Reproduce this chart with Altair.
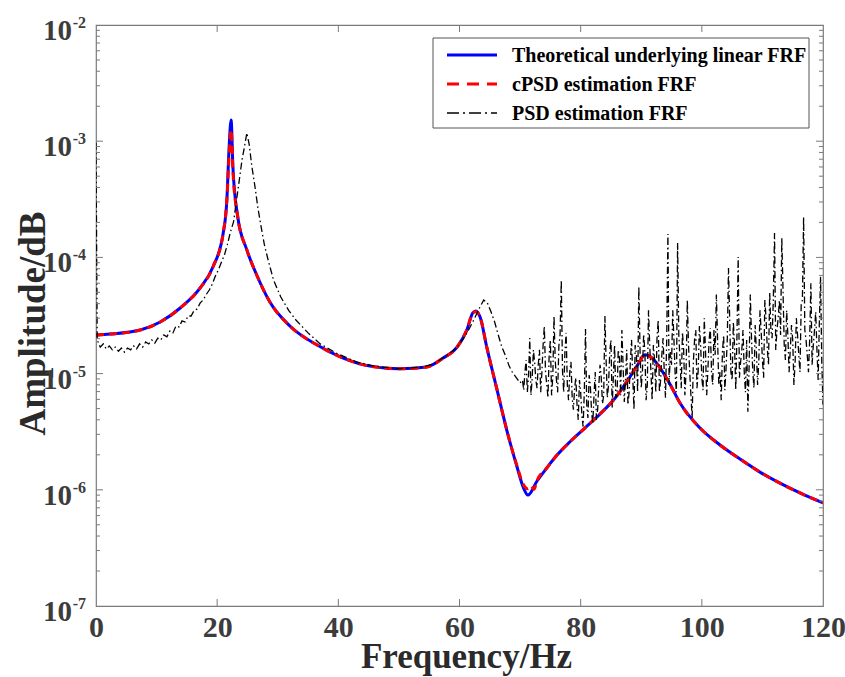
import altair as alt
import pandas as pd

# ---------------- data ----------------
series_names = ["Theoretical underlying linear FRF", "cPSD estimation FRF", "PSD estimation FRF"]

theo_freq = [0, 2.3, 7.3, 10.6, 13.9, 17.2, 19.3, 21.0, 21.6, 21.95, 22.3, 22.6, 23.4, 24.9,
             26.6, 28.7, 32.0, 36.5, 40.8, 45.2, 50.2, 54.6, 57.3, 59.6, 61.2, 62.2, 62.7,
             63.4, 64.5, 66.2, 67.8, 69.5, 70.5, 71.3, 72.8, 74.4, 76.1, 78.2, 80.7, 83.2,
             85.7, 87.8, 89.5, 90.6, 91.8, 93.1, 94.8, 96.4, 99.7, 103.0, 106.3, 109.6,
             112.9, 116.2, 120.0]
theo_amp = [2.15e-5, 2.19e-5, 2.37e-5, 2.78e-5, 3.67e-5, 5.46e-5, 8.26e-5, 1.62e-4, 3.12e-4,
            8.39e-4, 1.52e-3, 6.0e-4, 2.23e-4, 1.16e-4, 6.92e-5, 4.13e-5, 2.57e-5, 1.76e-5,
            1.36e-5, 1.16e-5, 1.10e-5, 1.14e-5, 1.36e-5, 1.69e-5, 2.37e-5, 3.33e-5, 3.46e-5,
            3.07e-5, 1.69e-5, 7.23e-6, 3.27e-6, 1.57e-6, 1.06e-6, 9.0e-7, 1.19e-6, 1.54e-6,
            1.99e-6, 2.58e-6, 3.40e-6, 4.49e-6, 6.17e-6, 8.81e-6, 1.21e-5, 1.45e-5, 1.36e-5,
            1.12e-5, 8.0e-6, 5.58e-6, 3.40e-6, 2.43e-6, 1.84e-6, 1.42e-6, 1.14e-6, 9.4e-7,
            7.7e-7]

cpsd_freq = [0, 2.3, 7.3, 10.6, 13.9, 17.2, 19.3, 21.0, 21.6, 22.0, 22.3, 22.45, 22.6, 23.4,
             24.9, 26.6, 28.7, 32.0, 36.5, 40.8, 45.2, 50.2, 54.6, 57.3, 59.6, 61.2, 62.2,
             62.7, 63.4, 64.5, 66.2, 67.8, 69.5, 70.5, 71.3, 71.8, 72.3, 72.8, 74.4, 76.1,
             78.2, 80.7, 83.2, 85.7, 87.8, 89.5, 90.6, 91.8, 93.1, 94.8, 96.4, 99.7, 103.0,
             106.3, 109.6, 112.9, 116.2, 120.0]
cpsd_amp = [2.15e-5, 2.19e-5, 2.37e-5, 2.78e-5, 3.67e-5, 5.46e-5, 8.26e-5, 1.62e-4, 3.12e-4,
            8.0e-4, 1.25e-3, 9.5e-4, 5.6e-4, 2.23e-4, 1.16e-4, 6.92e-5, 4.13e-5, 2.57e-5,
            1.76e-5, 1.36e-5, 1.16e-5, 1.10e-5, 1.14e-5, 1.36e-5, 1.69e-5, 2.37e-5, 3.33e-5,
            3.40e-5, 3.07e-5, 1.69e-5, 7.23e-6, 3.27e-6, 1.60e-6, 1.12e-6, 1.02e-6, 1.08e-6,
            1.01e-6, 1.20e-6, 1.54e-6, 1.99e-6, 2.58e-6, 3.40e-6, 4.49e-6, 6.17e-6, 8.81e-6,
            1.21e-5, 1.45e-5, 1.36e-5, 1.12e-5, 8.0e-6, 5.58e-6, 3.40e-6, 2.43e-6, 1.84e-6,
            1.42e-6, 1.14e-6, 9.4e-7, 7.7e-7]

psd_freq = [0.0, 0.2, 0.7, 1.2, 1.7, 2.2, 2.7, 3.2, 3.7, 4.2, 4.7, 5.2, 5.7, 6.2, 6.7, 7.2,
            7.7, 8.2, 8.7, 9.2, 9.7, 10.2, 10.7, 11.2, 11.7, 12.2, 12.7, 13.2, 13.7, 14.2,
            14.7, 15.2, 15.7, 16.2, 16.7, 17.2, 17.7, 18.2, 18.7, 19.2, 19.7, 20.2, 20.7,
            21.2, 21.7, 22.2, 22.7, 23.2, 23.7, 24.1, 24.5, 24.9, 25.3, 25.7, 26.2, 26.7,
            27.2, 27.8, 28.5, 29.3, 30.5, 31.8, 33.0, 35.0, 37.0, 40.0, 43.0, 46.0, 50.0,
            54.0, 56.0, 58.0, 59.5, 60.5, 61.5, 62.5, 63.3, 64.0, 64.6, 65.2, 65.8, 66.4,
            67.0, 67.6, 68.2, 68.8, 69.4, 70.0,
            70.4, 70.8, 71.2, 71.6, 72.0, 72.4, 72.8, 73.2, 73.6, 74.0, 74.4, 74.8, 75.2,
            75.6, 76.0, 76.4, 76.8, 77.2, 77.6, 78.0, 78.4, 78.8, 79.2, 79.6, 80.0, 80.4,
            80.8, 81.2, 81.6, 82.0, 82.4, 82.8, 83.2, 83.6, 84.0, 84.4, 84.8, 85.2, 85.6,
            86.0, 86.4, 86.8, 87.2, 87.6, 88.0, 88.4, 88.8, 89.2, 89.6, 90.0, 90.4, 90.8,
            91.2, 91.6, 92.0, 92.4, 92.8, 93.2, 93.6, 94.0, 94.4, 94.8, 95.2, 95.6, 96.0,
            96.4, 96.8, 97.2, 97.6, 98.0, 98.4, 98.8, 99.2, 99.6, 100.0, 100.4, 100.8,
            101.2, 101.6, 102.0, 102.4, 102.8, 103.2, 103.6, 104.0, 104.4, 104.8, 105.2,
            105.6, 106.0, 106.4, 106.8, 107.2, 107.6, 108.0, 108.4, 108.8, 109.2, 109.6,
            110.0, 110.4, 110.8, 111.2, 111.6, 112.0, 112.4, 112.8, 113.2, 113.6, 114.0,
            114.4, 114.8, 115.2, 115.6, 116.0, 116.4, 116.8, 117.2, 117.6, 118.0, 118.4,
            118.8, 119.2, 119.6, 120.0]
psd_amp = [9.7e-4, 1.95e-5, 1.69e-5, 1.80e-5, 1.63e-5, 1.73e-5, 1.60e-5, 1.69e-5, 1.56e-5,
           1.66e-5, 1.53e-5, 1.66e-5, 1.60e-5, 1.73e-5, 1.63e-5, 1.80e-5, 1.69e-5, 1.87e-5,
           1.80e-5, 1.95e-5, 1.83e-5, 2.02e-5, 1.95e-5, 2.15e-5, 2.07e-5, 2.33e-5, 2.24e-5,
           2.57e-5, 2.52e-5, 2.84e-5, 2.78e-5, 3.13e-5, 3.13e-5, 3.5e-5, 3.6e-5, 4.06e-5,
           4.3e-5, 4.8e-5, 5.24e-5, 5.9e-5, 6.9e-5, 7.8e-5, 9.1e-5, 1.05e-4, 1.30e-4,
           1.66e-4, 2.02e-4, 3.12e-4, 4.82e-4, 6.9e-4, 8.9e-4, 1.18e-3, 9.3e-4, 6.2e-4,
           4.2e-4, 2.72e-4, 1.90e-4, 1.28e-4, 9.1e-5, 6.4e-5, 4.56e-5, 3.5e-5, 2.89e-5,
           2.24e-5, 1.80e-5, 1.47e-5, 1.26e-5, 1.16e-5, 1.10e-5, 1.14e-5, 1.23e-5, 1.45e-5,
           1.66e-5, 1.95e-5, 2.37e-5, 3.0e-5, 3.67e-5, 4.3e-5, 4.06e-5, 3.4e-5, 2.78e-5,
           2.15e-5, 1.69e-5, 1.42e-5, 1.16e-5, 1.01e-5, 9.2e-6, 8.3e-6,
           8.8e-6, 1.03e-5, 6.9e-6, 2.02e-5, 9.2e-6, 1.26e-5, 7.5e-6, 1.60e-5, 1.03e-5,
           2.57e-5, 8.1e-6, 1.45e-5, 6.5e-6, 3.13e-5, 8.8e-6, 1.73e-5, 6.4e-5, 6.9e-6,
           2.24e-5, 5.9e-6, 1.26e-5, 4.9e-6, 9.2e-6, 4.0e-6, 6.9e-6, 3.5e-6, 2.42e-5,
           4.15e-6, 7.8e-6, 3.7e-6, 1.03e-5, 4.9e-6, 1.19e-5, 5.5e-6, 3.13e-5, 6.2e-6,
           1.53e-5, 5.1e-6, 1.76e-5, 6.5e-6, 1.36e-5, 2.37e-5, 5.7e-6, 1.60e-5, 6.9e-6,
           1.95e-5, 4.9e-6, 1.45e-5, 5.6e-5, 7.5e-6, 2.19e-5, 5.9e-6, 3.5e-5, 1.03e-5,
           1.76e-5, 6.9e-6, 2.89e-5, 8.8e-6, 2.02e-5, 6.2e-6, 1.59e-4, 1.53e-5, 3.5e-5,
           9.7e-6, 1.33e-4, 1.31e-5, 2.28e-5, 6.5e-6, 4.3e-5, 1.03e-5, 4.15e-6, 1.95e-5,
           7.5e-6, 2.57e-5, 9.2e-6, 3.0e-5, 6.5e-6, 1.95e-5, 1.03e-5, 2.37e-5, 4.8e-5,
           8.0e-6, 5.9e-6, 2.15e-5, 1.12e-5, 8.1e-5, 1.03e-5, 2.78e-5, 7.2e-6, 1.01e-4,
           1.26e-5, 2.37e-5, 6.9e-6, 4.7e-6, 4.8e-5, 1.07e-5, 2.62e-5, 8.0e-6, 3.5e-5,
           1.31e-5, 4.3e-5, 1.66e-5, 5.0e-5, 2.02e-5, 1.62e-4, 2.37e-5, 4.3e-5, 1.47e-4,
           1.76e-5, 3.5e-5, 1.03e-5, 2.62e-5, 8.0e-6, 3.0e-5, 1.45e-5, 3.9e-5, 2.23e-4,
           1.95e-5, 1.03e-5, 6.0e-5, 1.76e-5, 3.4e-5, 8.8e-6, 6.8e-5, 5.4e-6]

# extra PSD samples in the dense noisy band (between the samples above)
psd_mid_freq = [70.6, 71.0, 71.4, 71.8, 72.2, 72.6, 73.0, 73.4, 73.8, 74.2, 74.6, 75.0, 75.4,
                75.8, 76.2, 76.6, 77.0, 77.4, 77.8, 78.2, 78.6, 79.0, 79.4, 79.8, 80.2, 80.6,
                81.0, 81.4, 81.8, 82.2, 82.6, 83.0, 83.4, 83.8, 84.2, 84.6, 85.0, 85.4, 85.8,
                86.2, 86.6, 87.0, 87.4, 87.8, 88.2, 88.6, 89.0, 89.4, 89.8, 90.2, 90.6, 91.0,
                91.4, 91.8, 92.2, 92.6, 93.0, 93.4, 93.8, 94.2, 94.6, 95.0, 95.4, 95.8, 96.2,
                96.6, 97.0, 97.4, 97.8, 98.2, 98.6, 99.0, 99.4, 99.8, 100.2, 100.6, 101.0,
                101.4, 101.8, 102.2, 102.6, 103.0, 103.4, 103.8, 104.2, 104.6, 105.0, 105.4,
                105.8, 106.2, 106.6, 107.0, 107.4, 107.8, 108.2, 108.6, 109.0, 109.4, 109.8,
                110.2, 110.6, 111.0, 111.4, 111.8, 112.2, 112.6, 113.0, 113.4, 113.8, 114.2,
                114.6, 115.0, 115.4, 115.8, 116.2, 116.6, 117.0, 117.4, 117.8, 118.2, 118.6,
                119.0, 119.4, 119.8]
psd_mid_amp = [7.2e-6, 1.31e-5, 9.7e-6, 6.5e-6, 1.60e-5, 8.8e-6, 1.19e-5, 6.9e-6, 1.76e-5,
               1.03e-5, 6.2e-6, 1.95e-5, 9.5e-6, 1.31e-5, 6.9e-6, 2.15e-5, 1.07e-5, 1.53e-5,
               8.0e-6, 1.03e-5, 6.2e-6, 7.5e-6, 5.4e-6, 8.8e-6, 4.41e-6, 6.9e-6, 5.4e-6,
               9.7e-6, 4.7e-6, 6.5e-6, 4.0e-6, 8.0e-6, 9.2e-6, 6.5e-6, 1.31e-5, 8.0e-6,
               1.95e-5, 9.7e-6, 6.2e-6, 1.60e-5, 6.5e-6, 1.19e-5, 8.8e-6, 5.4e-6, 1.26e-5,
               9.2e-6, 1.76e-5, 6.9e-6, 1.60e-5, 1.07e-5, 1.53e-5, 8.0e-6, 1.76e-5, 5.9e-6,
               1.31e-5, 2.02e-5, 6.9e-6, 1.45e-5, 1.03e-5, 1.95e-5, 8.0e-6, 1.19e-5, 1.95e-5,
               6.9e-6, 2.15e-5, 7.5e-6, 1.60e-5, 1.03e-5, 1.76e-5, 6.5e-6, 1.26e-5, 2.37e-5,
               1.07e-5, 1.76e-5, 7.2e-6, 1.60e-5, 1.07e-5, 2.47e-5, 8.0e-6, 1.45e-5, 1.95e-5,
               1.03e-5, 1.53e-5, 7.2e-6, 1.95e-5, 2.89e-5, 8.8e-6, 1.76e-5, 2.15e-5, 9.2e-6,
               1.60e-5, 1.03e-5, 1.95e-5, 1.12e-5, 2.02e-5, 7.5e-6, 1.60e-5, 1.26e-5, 2.28e-5,
               9.2e-6, 3.0e-5, 1.19e-5, 2.37e-5, 4.3e-5, 1.60e-5, 3.0e-5, 2.15e-5, 5.24e-5,
               1.31e-5, 2.15e-5, 1.60e-5, 1.95e-5, 1.26e-5, 2.15e-5, 1.03e-5, 4.3e-5, 2.37e-5,
               1.45e-5, 1.95e-5, 1.19e-5, 2.37e-5, 1.60e-5, 2.78e-5, 1.26e-5]

y_decades = [1e-2, 1e-3, 1e-4, 1e-5, 1e-6, 1e-7]
y_exponents = ["-2", "-3", "-4", "-5", "-6", "-7"]
x_tick_values = [0, 20, 40, 60, 80, 100, 120]

# ---------------- build tables ----------------
df_theo = pd.DataFrame({"f": theo_freq, "a": theo_amp})
df_cpsd = pd.DataFrame({"f": cpsd_freq, "a": cpsd_amp})
df_psd = pd.concat([pd.DataFrame({"f": psd_freq, "a": psd_amp}),
                    pd.DataFrame({"f": psd_mid_freq, "a": psd_mid_amp})]).sort_values("f")

W, H = 727, 581
AX = "#7a7a7a"
LBL = "#3c3c3c"
FONT = "Liberation Serif"

x_scale = alt.Scale(domain=[0, 120], nice=False, zero=False)
y_scale = alt.Scale(type="log", domain=[1e-7, 1e-2], nice=False)

X = alt.X("f:Q", scale=x_scale,
          axis=alt.Axis(values=x_tick_values, format="d", ticks=False, domain=False, grid=False,
                        labelFont=FONT, labelFontSize=30, labelFontWeight="bold", labelColor=LBL,
                        labelPadding=6, labelFlush=False, labelOverlap=False,
                        title="Frequency/Hz", titleFont=FONT, titleFontSize=35,
                        titleFontWeight="bold", titleColor="#2a2a2a", titleX=370, titleY=61,
                        titleAlign="center", titleBaseline="alphabetic"))
Y = alt.Y("a:Q", scale=y_scale,
          axis=alt.Axis(labels=False, ticks=False, domain=False, grid=False,
                        title="Amplitude/dB", titleFont=FONT, titleFontSize=37,
                        titleFontWeight="bold", titleColor="#2a2a2a", titleAngle=270,
                        titleX=-52, titleY=298, titleAlign="center",
                        titleBaseline="alphabetic"))

theo = alt.Chart(df_theo).mark_line(color="#0000ff", strokeWidth=3, clip=True,
                                    interpolate="monotone").encode(x=X, y=Y)
cpsd = alt.Chart(df_cpsd).mark_line(color="#ff0000", strokeWidth=3, strokeDash=[8, 5],
                                    clip=True, interpolate="monotone").encode(x=X, y=Y)
psd = alt.Chart(df_psd).mark_line(color="#000000", strokeWidth=1.3,
                                  strokeDash=[7, 3, 1.5, 3], clip=True).encode(x=X, y=Y)

# inward ticks (box axes)
xt = pd.DataFrame({"f": x_tick_values[1:-1]})
x_bot = alt.Chart(xt).mark_rule(color=AX, strokeWidth=1).encode(
    x=X, y=alt.value(H), y2=alt.value(H - 7))
x_top = alt.Chart(xt).mark_rule(color=AX, strokeWidth=1).encode(
    x=X, y=alt.value(0), y2=alt.value(7))

minor_vals = [m * d for d in [1e-7, 1e-6, 1e-5, 1e-4, 1e-3] for m in range(2, 10)]
ymaj = pd.DataFrame({"a": y_decades[1:-1]})
ymin = pd.DataFrame({"a": minor_vals})
y_l_maj = alt.Chart(ymaj).mark_rule(color=AX, strokeWidth=1).encode(
    y=Y, x=alt.value(0), x2=alt.value(7))
y_r_maj = alt.Chart(ymaj).mark_rule(color=AX, strokeWidth=1).encode(
    y=Y, x=alt.value(W), x2=alt.value(W - 7))
y_l_min = alt.Chart(ymin).mark_rule(color=AX, strokeWidth=1).encode(
    y=Y, x=alt.value(0), x2=alt.value(4))
y_r_min = alt.Chart(ymin).mark_rule(color=AX, strokeWidth=1).encode(
    y=Y, x=alt.value(W), x2=alt.value(W - 4))

# y tick labels 10^k
ylab = pd.DataFrame({"a": y_decades, "e": y_exponents})
ten = alt.Chart(ylab).mark_text(align="right", baseline="alphabetic", dy=15, fontSize=29,
                                font=FONT, fontWeight="bold", color=LBL).encode(
    y=Y, x=alt.value(-24), text=alt.value("10"))
expo = alt.Chart(ylab).mark_text(align="right", baseline="alphabetic", dy=3, fontSize=16,
                                 font=FONT, fontWeight="bold", color=LBL).encode(
    y=Y, x=alt.value(-10), text="e:N")

# legend box (drawn like the original figure's boxed legend)
one = pd.DataFrame({"k": [0]})
leg_box = alt.Chart(one).mark_rect(fill="white", stroke="#555555", strokeWidth=1).encode(
    x=alt.value(337), x2=alt.value(713), y=alt.value(13), y2=alt.value(103))
leg_styles = [("#0000ff", 3, [1, 0]), ("#ff0000", 3, [12, 8]), ("#000000", 1.6, [12, 4, 2, 4])]
leg_rows = [30, 59, 88]
leg_layers = [leg_box]
for name, (col, sw, dsh), ry in zip(series_names, leg_styles, leg_rows):
    leg_layers.append(alt.Chart(one).mark_rule(color=col, strokeWidth=sw, strokeDash=dsh).encode(
        x=alt.value(351), x2=alt.value(401), y=alt.value(ry)))
    leg_layers.append(alt.Chart(one).mark_text(align="left", baseline="middle", font=FONT,
                                               fontSize=20, fontWeight="bold", color="black").encode(
        x=alt.value(416), y=alt.value(ry + 1), text=alt.value(name)))

chart = alt.layer(theo, cpsd, psd, x_bot, x_top, y_l_maj, y_r_maj, y_l_min, y_r_min,
                  ten, expo, *leg_layers).properties(
    width=W, height=H,
    padding={"left": 96, "top": 25, "right": 22, "bottom": 71},
    autosize=alt.AutoSizeParams(type="none"),
    background="white",
).configure_view(stroke=AX, strokeWidth=1.2)

chart.save("out.html", embed_options={"renderer": "svg", "actions": False})
